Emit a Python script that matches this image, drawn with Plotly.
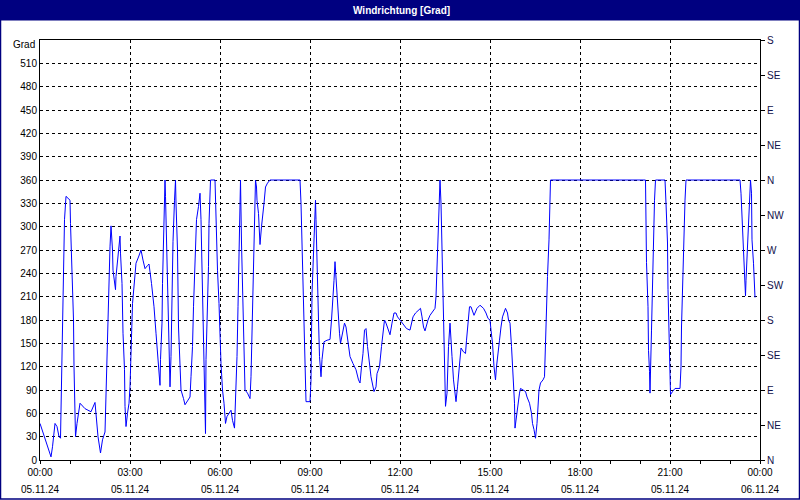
import pandas as pd
import plotly.graph_objects as go

# minutes since 05.11.24 00:00
times_min = [
    0, 22, 25, 30, 34, 38, 41, 42, 44, 46, 47, 49, 52, 60, 61, 64, 67, 68, 70, 71,
    74, 80, 90, 102, 110, 113, 116, 121, 125, 130, 133, 136, 137, 140, 142, 143, 145, 146, 149, 151,
    152, 155, 157, 160, 161, 164, 166, 169, 170, 172, 175, 178, 180, 182, 185, 190, 192, 197, 202, 206,
    210, 215, 218, 223, 228, 232, 235, 238, 240, 241, 244, 245, 247, 248, 250, 251, 253, 256, 257, 259,
    260, 262, 263, 265, 266, 269, 271, 272, 275, 277, 280, 282, 287, 290, 296, 300, 302, 305, 307, 310,
    313, 317, 320, 322, 324, 325, 328, 329, 331, 332, 335, 337, 338, 341, 350, 352, 355, 358, 360, 362,
    365, 368, 371, 374, 382, 385, 389, 391, 394, 396, 398, 400, 401, 403, 406, 407, 409, 410, 415, 420,
    422, 424, 426, 428, 430, 431, 433, 434, 437, 439, 440, 443, 445, 448, 451, 455, 460, 520, 522, 524,
    526, 528, 530, 532, 540, 542, 544, 547, 550, 551, 552, 554, 557, 559, 562, 564, 568, 574, 580, 583,
    586, 588, 590, 593, 596, 599, 601, 605, 609, 612, 616, 620, 626, 632, 637, 640, 643, 646, 649, 652,
    655, 659, 662, 668, 672, 674, 679, 683, 685, 689, 692, 696, 700, 704, 708, 712, 715, 720, 727, 733,
    740, 743, 746, 751, 757, 761, 764, 767, 770, 773, 776, 780, 785, 790, 792, 794, 796, 798, 799, 800,
    802, 804, 806, 808, 810, 811, 814, 815, 817, 820, 822, 824, 827, 830, 832, 835, 838, 840, 842, 847,
    851, 853, 856, 859, 862, 864, 868, 874, 880, 887, 892, 896, 900, 902, 905, 908, 911, 913, 916, 919,
    922, 925, 931, 935, 937, 940, 943, 947, 949, 950, 953, 956, 959, 961, 967, 971, 974, 979, 983, 985,
    988, 991, 994, 996, 998, 1001, 1006, 1009, 1010, 1013, 1015, 1018, 1019, 1021, 1211, 1212, 1213, 1216, 1217, 1219,
    1220, 1223, 1225, 1226, 1229, 1231, 1250, 1252, 1255, 1256, 1258, 1260, 1261, 1265, 1270, 1280, 1282, 1283, 1285, 1288,
    1290, 1292, 1400, 1402, 1404, 1406, 1408, 1410, 1411, 1412, 1414, 1416, 1418, 1420, 1421, 1423, 1424, 1427, 1429, 1430,
]
wind_deg = [
    47, 4, 17, 47, 43, 30, 28, 60, 120, 184, 244, 309, 339, 334, 304, 244, 180, 120, 60, 30,
    47, 73, 66, 62, 74, 54, 30, 9, 26, 36, 103, 171, 223, 274, 301, 291, 270, 244, 227, 219,
    236, 253, 266, 288, 266, 227, 163, 116, 69, 43, 60, 73, 94, 133, 201, 238, 253, 261, 270, 257,
    246, 250, 252, 227, 197, 163, 137, 116, 96, 129, 176, 227, 279, 334, 360, 339, 279, 231, 176, 133,
    94, 133, 176, 227, 281, 334, 360, 330, 270, 171, 120, 90, 79, 71, 77, 81, 107, 146, 197, 266,
    309, 326, 343, 309, 249, 189, 129, 69, 34, 129, 197, 249, 304, 360, 360, 296, 244, 201, 154, 124,
    90, 73, 47, 56, 64, 51, 41, 73, 133, 197, 266, 330, 360, 279, 201, 146, 116, 90, 86, 79,
    107, 171, 223, 279, 330, 360, 351, 334, 317, 291, 277, 300, 317, 330, 351, 356, 360, 360, 330, 270,
    214, 159, 103, 75, 75, 103, 214, 274, 309, 334, 309, 244, 180, 133, 107, 129, 152, 154, 155, 180,
    206, 231, 255, 223, 184, 163, 150, 163, 176, 171, 150, 133, 124, 116, 103, 99, 120, 137, 167, 169,
    146, 120, 107, 88, 94, 111, 120, 146, 159, 180, 176, 167, 161, 176, 189, 189, 184, 180, 174, 169,
    167, 176, 184, 189, 193, 195, 184, 171, 166, 174, 180, 186, 190, 195, 210, 244, 279, 313, 343, 360,
    330, 274, 214, 154, 99, 69, 86, 116, 146, 176, 159, 133, 103, 86, 75, 94, 120, 137, 144, 139,
    137, 154, 180, 197, 197, 193, 186, 195, 199, 195, 189, 182, 180, 167, 150, 120, 103, 120, 141, 154,
    171, 184, 195, 189, 180, 176, 146, 107, 73, 41, 56, 77, 86, 92, 90, 88, 81, 73, 60, 47,
    39, 28, 47, 69, 90, 99, 103, 107, 133, 184, 236, 283, 334, 360, 360, 309, 254, 197, 141, 114,
    86, 167, 223, 279, 334, 360, 360, 330, 279, 219, 163, 111, 84, 88, 92, 92, 120, 171, 227, 279,
    334, 360, 360, 343, 315, 283, 257, 231, 211, 231, 257, 283, 315, 343, 360, 343, 283, 253, 223, 209,
]

y_left_ticks = list(range(0, 541, 30))
y_left_labels = [str(v) for v in y_left_ticks[:-1]] + [""]
y_right_ticks = list(range(0, 541, 45))
y_right_labels = ["N", "NE", "E", "SE", "S", "SW", "W", "NW", "N", "NE", "E", "SE", "S"]
x_tick_times = ["2024-11-05 00:00", "2024-11-05 03:00", "2024-11-05 06:00", "2024-11-05 09:00",
                "2024-11-05 12:00", "2024-11-05 15:00", "2024-11-05 18:00", "2024-11-05 21:00",
                "2024-11-06 00:00"]
x_tick_labels = ["00:00", "03:00", "06:00", "09:00", "12:00", "15:00", "18:00", "21:00", "00:00"]
x_tick_dates = ["05.11.24"] * 8 + ["06.11.24"]
title_text = "Windrichtung [Grad]"
y_unit = "Grad"

base = pd.Timestamp("2024-11-05 00:00")
xs = [base + pd.Timedelta(minutes=m) for m in times_min]

FONT = "Liberation Sans"
NAVY = "#000080"

fig = go.Figure()
fig.add_trace(go.Scatter(x=xs, y=wind_deg, mode="lines",
                         line=dict(color="#0000ff", width=1), showlegend=False,
                         hoverinfo="skip"))
# invisible trace for the right axis
fig.add_trace(go.Scatter(x=[xs[0]], y=[0], yaxis="y2", mode="markers",
                         marker=dict(opacity=0), showlegend=False, hoverinfo="skip"))

W, H = 800, 500
L, R, T, B = 40, 40, 40, 40
pw, ph = W - L - R, H - T - B


def px_x(p):
    return (p - L) / pw


def px_y(p):
    return (H - B - p) / ph


fig.update_layout(
    width=W, height=H,
    margin=dict(l=L, r=R, t=T, b=B, pad=0),
    paper_bgcolor="white", plot_bgcolor="white",
    font=dict(family=FONT, size=10, color="black"),
    xaxis=dict(
        type="date",
        range=[x_tick_times[0], x_tick_times[-1]],
        tickmode="array", tickvals=x_tick_times, ticktext=x_tick_labels,
        ticks="outside", ticklen=3, tickcolor="black",
        showgrid=True, gridcolor="black", griddash="3px,3px", gridwidth=1,
        showline=True, linecolor="black", linewidth=1, mirror=True,
        zeroline=False, tickfont=dict(size=10, family=FONT),
        minor=dict(dtick=3600000, tick0="2024-11-05", ticks="outside", ticklen=3,
                   tickcolor="black", showgrid=False),
    ),
    yaxis=dict(
        range=[0, 540], tickmode="array", tickvals=y_left_ticks, ticktext=y_left_labels,
        ticks="", showgrid=True, gridcolor="black", griddash="3px,3px", gridwidth=1,
        showline=True, linecolor="black", linewidth=1, mirror=True,
        zeroline=False, tickfont=dict(size=10, family=FONT),
    ),
    yaxis2=dict(
        range=[0, 540], overlaying="y", side="right",
        tickmode="array", tickvals=y_right_ticks, ticktext=y_right_labels,
        ticks="outside", ticklen=4, tickcolor="black",
        showgrid=False, showline=True, linecolor="black", zeroline=False,
        tickfont=dict(size=10, family=FONT, color="#10104a"),
    ),
    shapes=[
        dict(type="rect", xref="paper", yref="paper",
             x0=px_x(0), x1=px_x(W), y0=px_y(20.5), y1=px_y(0),
             fillcolor=NAVY, line=dict(width=0), layer="above"),
        dict(type="rect", xref="paper", yref="paper",
             x0=px_x(0.5), x1=px_x(W - 0.5), y0=px_y(H - 1), y1=px_y(0.5),
             fillcolor="rgba(0,0,0,0)", line=dict(color=NAVY, width=1.5), layer="above"),
    ],
)

annotations = [
    dict(text="<b>" + title_text + "</b>", xref="paper", yref="paper",
         x=px_x(401), y=px_y(10), xanchor="center", yanchor="middle",
         showarrow=False, font=dict(size=10, family=FONT, color="white")),
    dict(text=y_unit, xref="paper", yref="paper", x=px_x(37), y=px_y(45),
         xanchor="right", yanchor="middle", showarrow=False,
         font=dict(size=10, family=FONT, color="black")),
]
for t, d in zip(x_tick_times, x_tick_dates):
    annotations.append(dict(text=d, xref="x", yref="paper", x=t, y=px_y(489),
                            xanchor="center", yanchor="middle", showarrow=False,
                            font=dict(size=10, family=FONT, color="black")))
fig.update_layout(annotations=annotations)

fig.write_html(
    "out.html",
    config={"displayModeBar": False, "staticPlot": True},
    post_script="document.body.style.margin='0';document.body.style.padding='0';"
                "document.body.style.overflow='hidden';",
)
